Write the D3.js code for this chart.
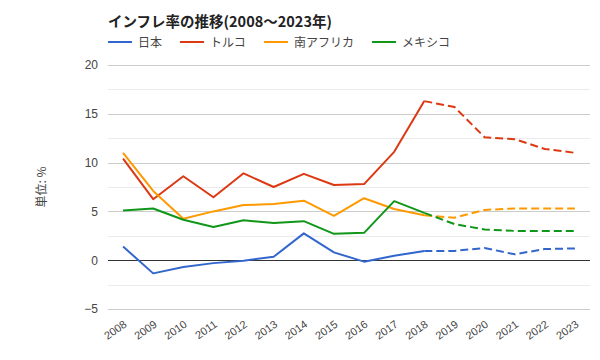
<!DOCTYPE html>
<html><head><meta charset="utf-8">
<script src="https://cdn.jsdelivr.net/npm/d3@7"></script>
<style>body{margin:0;background:#fff;} svg{display:block;font-family:"Noto Sans CJK JP","Noto Sans",sans-serif;}</style>
</head><body><svg id="c" width="600" height="360"></svg>
<script>
const years = ["2008","2009","2010","2011","2012","2013","2014","2015","2016","2017","2018","2019","2020","2021","2022","2023"];
const seriesNames = ["日本","トルコ","南アフリカ","メキシコ"];
const seriesColors = ["#3366cc","#dc3912","#ff9900","#109618"];
const japan = [1.4,-1.35,-0.7,-0.3,-0.05,0.35,2.75,0.8,-0.15,0.45,0.95,0.95,1.25,0.6,1.15,1.2];
const turkey = [10.4,6.25,8.6,6.45,8.9,7.5,8.85,7.7,7.8,11.1,16.3,15.7,12.6,12.4,11.4,11.0];
const southAfrica = [11.0,7.1,4.25,5.0,5.65,5.75,6.1,4.55,6.35,5.25,4.6,4.35,5.15,5.3,5.3,5.3];
const mexico = [5.1,5.3,4.15,3.4,4.1,3.8,4.0,2.7,2.8,6.05,4.85,3.7,3.15,3.0,3.0,3.0];
const forecastStart = "2018";
const yTicks = [-5,0,5,10,15,20];
const yMinor = [-2.5,2.5,7.5,12.5,17.5];
const title = "インフレ率の推移(2008～2023年)";
const yLabel = "単位: %";

const data = [japan, turkey, southAfrica, mexico];
const svg = d3.select("#c");
const L = 108, R = 590, T = 65, B = 309;
const x = d3.scalePoint().domain(years).range([L, R]).padding(0.5);
const y = d3.scaleLinear().domain([-5, 20]).range([B, T]);

// minor grid
svg.append("g").selectAll("line").data(yMinor).join("line")
  .attr("x1", L).attr("x2", R).attr("y1", d => Math.round(y(d))+0.5).attr("y2", d => Math.round(y(d))+0.5)
  .attr("stroke", "#ebebeb").attr("stroke-width", 1);
// major grid
svg.append("g").selectAll("line").data(yTicks).join("line")
  .attr("x1", L).attr("x2", R).attr("y1", d => Math.round(y(d))+0.5).attr("y2", d => Math.round(y(d))+0.5)
  .attr("stroke", d => d === 0 ? "#333" : "#cccccc").attr("stroke-width", 1);

// y axis labels
const yAxis = d3.axisLeft(y).tickValues(yTicks).tickSize(0).tickPadding(10);
const ya = svg.append("g").attr("transform", `translate(${L},0)`).call(yAxis);
ya.select(".domain").remove();
ya.selectAll("text").attr("fill", "#444").attr("font-size", 12).attr("font-family", "Arial, 'Liberation Sans', sans-serif");

// x axis labels
const xAxis = d3.axisBottom(x).tickSize(0).tickPadding(0);
const xa = svg.append("g").attr("transform", `translate(0,${B})`).call(xAxis);
xa.select(".domain").remove();
xa.selectAll("text").attr("fill", "#444").attr("font-size", 11).attr("font-family", "Arial, 'Liberation Sans', sans-serif")
  .attr("text-anchor", "end").attr("dy", 0)
  .attr("transform", "translate(4,17) rotate(-35)");

// y label
svg.append("text").attr("transform", `translate(46,${(T+B)/2}) rotate(-90)`)
  .attr("text-anchor", "middle").attr("font-size", 12).attr("fill", "#444").text(yLabel);

// lines
const fi = years.indexOf(forecastStart);
const line = d3.line().x(d => x(d.year)).y(d => y(d.v));
data.forEach((arr, i) => {
  const pts = arr.map((v, j) => ({year: years[j], v}));
  svg.append("path").datum(pts.slice(0, fi+1)).attr("d", line)
    .attr("fill", "none").attr("stroke", seriesColors[i]).attr("stroke-width", 2).attr("stroke-linejoin", "round");
  svg.append("path").datum(pts.slice(fi)).attr("d", line)
    .attr("fill", "none").attr("stroke", seriesColors[i]).attr("stroke-width", 2).attr("stroke-dasharray", "8,4");
});

// title
svg.append("text").attr("x", L).attr("y", 27).attr("font-size", 14.5).attr("font-weight", "bold").attr("fill", "#222").text(title);

// legend
const legX = [108, 180, 264, 372];
seriesNames.forEach((n, i) => {
  const g = svg.append("g").attr("transform", `translate(${legX[i]},42)`);
  g.append("line").attr("x1", 0).attr("x2", 24).attr("y1", 0).attr("y2", 0).attr("stroke", seriesColors[i]).attr("stroke-width", 2);
  g.append("text").attr("x", 30).attr("y", 4.5).attr("font-size", 12).attr("fill", "#444").text(n);
});
</script></body></html>
